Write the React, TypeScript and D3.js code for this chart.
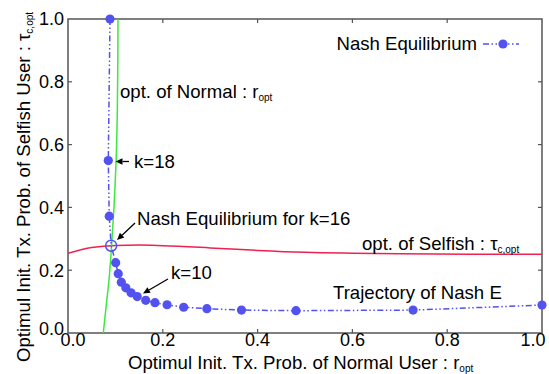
import React from "react";
import * as d3 from "d3";

const nashX = [0.0886, 0.085, 0.087, 0.091, 0.1006, 0.106, 0.1125, 0.122, 0.133, 0.146, 0.164, 0.1835, 0.209, 0.244, 0.293, 0.366, 0.481, 0.728, 1.0];
const nashY = [1.0, 0.549, 0.372, 0.278, 0.224, 0.189, 0.162, 0.144, 0.128, 0.116, 0.104, 0.0966, 0.09, 0.082, 0.0775, 0.073, 0.071, 0.073, 0.089];
const nashOpenIndex = 3;

const normalOptX = [0.0745, 0.0815, 0.0865, 0.092, 0.097, 0.1015, 0.104, 0.105, 0.1055];
const normalOptY = [0.0, 0.1, 0.169, 0.28, 0.4, 0.55, 0.7, 0.85, 1.0];

const selfishOptX = [0.0, 0.05, 0.1, 0.15, 0.2, 0.3, 0.4, 0.5, 0.6, 0.7, 0.85, 1.0];
const selfishOptY = [0.254, 0.272, 0.279, 0.28, 0.278, 0.271, 0.263, 0.257, 0.254, 0.252, 0.251, 0.251];

const xTicks = [0, 0.2, 0.4, 0.6, 0.8, 1.0];
const yTicks = [0, 0.2, 0.4, 0.6, 0.8, 1.0];

const W = 549, H = 374;
const L = 68, R = 542, T = 19, B = 333;
const FONT = "'Liberation Sans', Arial, sans-serif";
const FS = 18.6;
const TFS = 18;
const SUB = 10;
const BLUE = "#5252f0";
const RED = "#ee2250";
const GREEN = "#3ee83e";
const AXIS = "#555";

export default function App() {
  const x = d3.scaleLinear().domain([0, 1]).range([L, R]);
  const y = d3.scaleLinear().domain([0, 1]).range([B, T]);

  const nash = nashX.map((v, i) => [v, nashY[i]] as [number, number]);
  const normal = normalOptX.map((v, i) => [v, normalOptY[i]] as [number, number]);
  const selfish = selfishOptX.map((v, i) => [v, selfishOptY[i]] as [number, number]);

  const lin = d3.line<[number, number]>().x(d => x(d[0])).y(d => y(d[1]));
  const greenLine = d3.line<[number, number]>().x(d => x(d[0])).y(d => y(d[1])).curve(d3.curveMonotoneY);
  const redLine = d3.line<[number, number]>().x(d => x(d[0])).y(d => y(d[1])).curve(d3.curveMonotoneX);

  const dash = "6,2.5,1.5,2.5,1.5,2.5";
  const tickLen = 4;

  const arrow = (x1: number, y1: number, x2: number, y2: number, key: string) => {
    const ang = Math.atan2(y2 - y1, x2 - x1);
    const hl = 7, hw = 3.2;
    const bx = x2 - hl * Math.cos(ang), by = y2 - hl * Math.sin(ang);
    const px = -Math.sin(ang) * hw, py = Math.cos(ang) * hw;
    return (
      <g key={key}>
        <line x1={x1} y1={y1} x2={bx} y2={by} stroke="#000" strokeWidth={1.3} />
        <path d={`M${x2},${y2}L${bx + px},${by + py}L${bx - px},${by - py}Z`} fill="#000" />
      </g>
    );
  };

  return (
    <svg width={W} height={H} style={{ position: "absolute", left: 0, top: 0, background: "#fff" }} fontFamily={FONT}>
      <defs>
        <clipPath id="plot">
          <rect x={L} y={T - 6} width={R - L + 6} height={B - T + 6} />
        </clipPath>
      </defs>
      {/* frame */}
      <rect x={L} y={T} width={R - L} height={B - T} fill="none" stroke={AXIS} strokeWidth={1.5} />
      {xTicks.slice(1, -1).map(t => (
        <g key={"xt" + t}>
          <line x1={x(t)} x2={x(t)} y1={B} y2={B - tickLen} stroke={AXIS} strokeWidth={1.2} />
          <line x1={x(t)} x2={x(t)} y1={T} y2={T + tickLen} stroke={AXIS} strokeWidth={1.2} />
        </g>
      ))}
      {yTicks.slice(1, -1).map(t => (
        <g key={"yt" + t}>
          <line x1={L} x2={L + tickLen} y1={y(t)} y2={y(t)} stroke={AXIS} strokeWidth={1.2} />
          <line x1={R} x2={R - tickLen} y1={y(t)} y2={y(t)} stroke={AXIS} strokeWidth={1.2} />
        </g>
      ))}
      {/* tick labels */}
      {xTicks.map((t, i) => (
        <text key={"xl" + t} x={x(t) + (i === 0 ? 5 : i === xTicks.length - 1 ? -9 : 0)} y={B + 12.5} fontSize={TFS} textAnchor="middle">
          {t.toFixed(1)}
        </text>
      ))}
      {yTicks.map((t, i) => (
        <text key={"yl" + t} x={L - 4} y={y(t) + 6.3 - (i === 0 ? 4 : 0)} fontSize={TFS} textAnchor="end">
          {t.toFixed(1)}
        </text>
      ))}
      {/* axis titles */}
      <text x={128} y={368.5} fontSize={FS}>
        Optimul Init. Tx. Prob. of Normal User : r<tspan fontSize={SUB} dy={3}>opt</tspan>
      </text>
      <text transform={`translate(30,362) rotate(-90)`} fontSize={FS}>
        Optimul Init. Tx. Prob. of Selfish User : τ<tspan fontSize={SUB} dy={3}>c,opt</tspan>
      </text>

      <g clipPath="url(#plot)">
        <path d={redLine(selfish) || ""} fill="none" stroke={RED} strokeWidth={1.5} />
        <path d={greenLine(normal) || ""} fill="none" stroke={GREEN} strokeWidth={1.5} />
        <path d={lin(nash) || ""} fill="none" stroke={BLUE} strokeWidth={1.5} strokeDasharray={dash} />
        {nash.map((d, i) =>
          i === nashOpenIndex ? (
            <circle key={"n" + i} cx={x(d[0])} cy={y(d[1])} r={5.5} fill="none" stroke={BLUE} strokeWidth={1.5} />
          ) : (
            <circle key={"n" + i} cx={x(d[0])} cy={y(d[1])} r={4.6} fill={BLUE} />
          )
        )}
      </g>

      {/* legend */}
      <text x={477} y={49.5} fontSize={FS} textAnchor="end">Nash Equilibrium</text>
      <line x1={483} x2={519} y1={44} y2={44} stroke={BLUE} strokeWidth={1.5} strokeDasharray={dash} />
      <circle cx={503} cy={44} r={4.6} fill={BLUE} />

      {/* annotations */}
      <text x={120} y={97.5} fontSize={FS}>
        opt. of Normal : r<tspan fontSize={SUB} dy={3}>opt</tspan>
      </text>
      <text x={134} y={167.5} fontSize={FS}>k=18</text>
      {arrow(129, 161.5, 115.5, 161.5, "a1")}
      <text x={137} y={224.5} fontSize={FS}>Nash Equilibrium for k=16</text>
      {arrow(135, 223, 117, 240, "a2")}
      <text x={171} y={278.5} fontSize={FS}>k=10</text>
      {arrow(168, 279, 143, 293.5, "a3")}
      <text x={362} y={250} fontSize={FS}>
        opt. of Selfish : τ<tspan fontSize={SUB} dy={3}>c,opt</tspan>
      </text>
      <text x={333} y={298.5} fontSize={FS}>Trajectory of Nash E</text>
    </svg>
  );
}
